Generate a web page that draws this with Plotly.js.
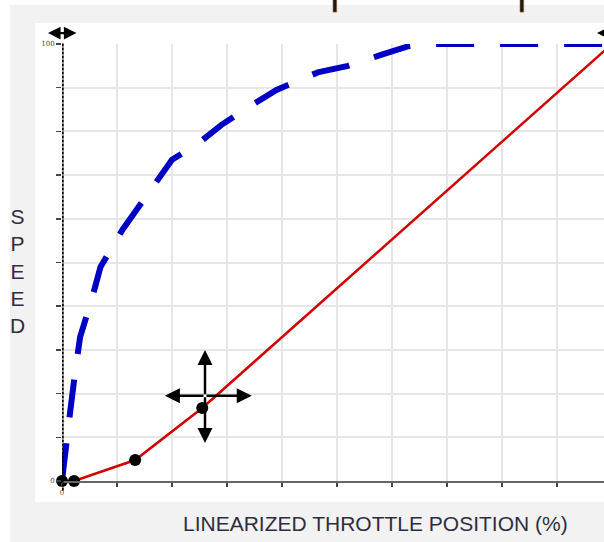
<!DOCTYPE html>
<html>
<head>
<meta charset="utf-8">
<script src="https://cdn.plot.ly/plotly-3.0.1.min.js"></script>
<style>
html, body { margin: 0; padding: 0; background: #ffffff; overflow: hidden; width: 604px; height: 542px; }
#chart { width: 620px; height: 542px; }
</style>
</head>
<body>
<div id="chart"></div>
<script>
// Data
const curveX = [0, 0.7, 1.5, 2.5, 3.3, 5.5, 7, 11, 14, 17.5, 20, 25, 29, 34.5, 39, 46.5, 52, 58, 63, 66, 100];
const curveY = [0, 9, 16, 26, 33, 42, 49, 57.5, 63, 69.5, 73.5, 77.5, 81.5, 86, 89.5, 93.5, 95, 97.5, 99.5, 100, 100];
const linX = [0, 2.2, 13.3, 25.5, 100];
const linY = [0, 0, 4.8, 16.7, 100];
const tickVals = [0, 10, 20, 30, 40, 50, 60, 70, 80, 90, 100];
const tickText = ['0', '', '', '', '', '', '', '', '', '', '100'];
const xTitle = 'LINEARIZED THROTTLE POSITION (%)';
const yTitle = 'S<br>P<br>E<br>E<br>D';
// drag cursor (centre and arm ends, data units)
const cursorCenter = [26, 19.5];
const cursorHeads = [[26, 30], [26, 8.7], [18.7, 19.5], [34.5, 19.5]];

const traces = [
  {
    x: curveX, y: curveY, type: 'scatter', mode: 'lines',
    line: { color: '#0000c4', width: 6, dash: '38px,26px' },
    cliponaxis: false, hoverinfo: 'skip'
  },
  {
    x: linX, y: linY, type: 'scatter', mode: 'lines+markers',
    line: { color: '#d00000', width: 2.5 },
    marker: { color: '#000000', size: 12 },
    cliponaxis: false, hoverinfo: 'skip'
  }
];

const annotations = [
  { text: xTitle, xref: 'paper', yref: 'paper', x: 0.570, y: -0.098, showarrow: false,
    xanchor: 'center', yanchor: 'middle', font: { family: 'Liberation Sans, Arial, sans-serif', size: 21, color: '#2e2e40' } },
  { text: yTitle, xref: 'paper', yref: 'paper', x: -0.0818, y: 0.4805, showarrow: false,
    xanchor: 'center', yanchor: 'middle', font: { family: 'Liberation Sans, Arial, sans-serif', size: 21, color: '#2e2e40' } },
  // top-left double arrow
  { text: '', xref: 'paper', yref: 'paper', x: -0.0255, y: 1.025, ax: 30, ay: 0,
    showarrow: true, arrowside: 'end+start', arrowhead: 2, startarrowhead: 2, arrowwidth: 2.4, arrowsize: 1.05, startarrowsize: 1.05, arrowcolor: '#000' },
  // top-right double arrow (cut off)
  { text: '', xref: 'paper', yref: 'paper', x: 0.9727, y: 1.025, ax: 30, ay: 0,
    showarrow: true, arrowside: 'end+start', arrowhead: 2, startarrowhead: 2, arrowwidth: 2.4, arrowsize: 1.05, startarrowsize: 1.05, arrowcolor: '#000' }
];
cursorHeads.forEach(function (h) {
  annotations.push({ text: '', xref: 'x', yref: 'y', axref: 'x', ayref: 'y',
    x: h[0], y: h[1], ax: cursorCenter[0], ay: cursorCenter[1],
    showarrow: true, arrowhead: 2, arrowwidth: 2.5, arrowsize: 1.2, arrowcolor: '#000' });
});

const shapes = [
  { type: 'rect', xref: 'paper', yref: 'paper', x0: -0.0945, x1: 1.02, y0: -0.14, y1: 1.0892,
    fillcolor: '#f2f2f2', line: { width: 0 }, layer: 'below' },
  { type: 'rect', xref: 'paper', yref: 'paper', x0: -0.0491, x1: 1.02, y0: -0.048, y1: 1.048,
    fillcolor: '#ffffff', line: { width: 0 }, layer: 'below' },
  { type: 'line', xref: 'x', yref: 'paper', x0: 0, x1: 0, y0: -0.022, y1: 1.003,
    line: { color: '#000000', width: 3.5, dash: '3px,1px' }, layer: 'above' },
  { type: 'rect', xref: 'paper', yref: 'paper', x0: 0.4927, x1: 0.4995, y0: 1.073, y1: 1.11,
    fillcolor: '#1a1a1a', line: { color: '#b07030', width: 0.6 }, layer: 'above' },
  { type: 'rect', xref: 'paper', yref: 'paper', x0: 0.8327, x1: 0.8395, y0: 1.073, y1: 1.11,
    fillcolor: '#1a1a1a', line: { color: '#b07030', width: 0.6 }, layer: 'above' }
];

const layout = {
  width: 620, height: 542,
  margin: { l: 62, r: 8, t: 44, b: 61, pad: 0 },
  paper_bgcolor: '#ffffff',
  plot_bgcolor: 'rgba(0,0,0,0)',
  showlegend: false,
  xaxis: {
    range: [0, 100], tickmode: 'array', tickvals: tickVals, ticktext: tickText,
    showgrid: true, gridcolor: '#e6e6e6', gridwidth: 2,
    ticks: 'outside', ticklen: 4, tickwidth: 2, tickcolor: '#444',
    showline: true, linecolor: '#666', linewidth: 2, zeroline: false,
    tickfont: { family: 'DejaVu Serif, serif', size: 7, color: '#666' }, fixedrange: true
  },
  yaxis: {
    range: [0, 100], tickmode: 'array', tickvals: tickVals, ticktext: tickText,
    showgrid: true, gridcolor: '#e6e6e6', gridwidth: 2,
    ticks: 'outside', ticklen: 5, tickwidth: 1.5, tickcolor: '#444',
    showline: false, zeroline: false,
    tickfont: { family: 'DejaVu Serif, serif', size: 7, color: '#444' }, fixedrange: true
  },
  annotations: annotations,
  shapes: shapes
};

Plotly.newPlot('chart', traces, layout, { displayModeBar: false, staticPlot: true });
</script>
</body>
</html>
